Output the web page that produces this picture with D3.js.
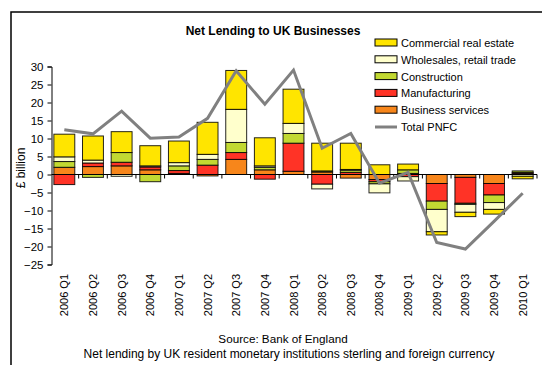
<!DOCTYPE html>
<html>
<head>
<meta charset="utf-8">
<script src="https://cdn.jsdelivr.net/npm/d3@7"></script>
<style>
  body { margin: 0; background: #fff; }
  text { font-family: "Liberation Sans", Arial, sans-serif; }
</style>
</head>
<body>
<div id="chart"></div>
<script>
// quarters and sector lending (£ billion)
var quarters = ["2006 Q1", "2006 Q2", "2006 Q3", "2006 Q4", "2007 Q1", "2007 Q2", "2007 Q3", "2007 Q4",
                "2008 Q1", "2008 Q2", "2008 Q3", "2008 Q4", "2009 Q1", "2009 Q2", "2009 Q3", "2009 Q4", "2010 Q1"];
var business = [2.0, 2.2, 2.4, 1.3, 0.3, -0.4, 4.2, 1.3, 0.9, 0.7, -1.0, -1.4, 0.3, -2.5, -0.8, -2.5, 0.3];
var manufacturing = [-2.8, 1.0, 1.0, 0.8, 0.8, 2.6, 1.9, -1.3, 7.8, -2.7, 0.6, -0.6, -0.6, -4.9, -7.2, -3.2, 0.3];
var construction = [1.6, -0.8, 2.7, -2.0, 1.3, 1.6, 2.8, 0.7, 2.7, 0.3, 0.6, -0.6, 1.0, -2.3, -0.3, -2.1, 0.4];
var wholesale = [1.3, 0.8, -0.5, 0.3, 0.9, 1.4, 9.2, 0.4, 2.8, -1.3, 0.2, -2.5, -1.2, -6.2, -2.2, -1.9, -0.5];
var realEstate = [6.3, 6.7, 5.8, 5.6, 6.0, 8.9, 10.8, 7.8, 9.5, 7.7, 7.3, 2.7, 1.6, -0.9, -1.2, -1.3, -0.7];
var totalPNFC = [12.4, 11.3, 17.6, 10.1, 10.4, 15.6, 28.8, 19.5, 29.0, 7.3, 11.4, -2.4, 0.6, -18.9, -20.7, -13.0, -5.2];
var yTicks = [30, 25, 20, 15, 10, 5, 0, -5, -10, -15, -20, -25];

var series = [
  { key: "business", name: "Business services", color: "#f7861b", values: business },
  { key: "manufacturing", name: "Manufacturing", color: "#ff3326", values: manufacturing },
  { key: "construction", name: "Construction", color: "#c2d932", values: construction },
  { key: "wholesale", name: "Wholesales, retail trade", color: "#ffffcc", values: wholesale },
  { key: "realEstate", name: "Commercial real estate", color: "#ffe500", values: realEstate }
];

var rows = quarters.map(function(q, i) {
  var r = { quarter: q };
  series.forEach(function(s) { r[s.key] = s.values[i]; });
  return r;
});

var width = 542, height = 365;
var svg = d3.select("#chart").append("svg").attr("width", width).attr("height", height);

// outer frame (only left/top visible in the picture)
svg.append("rect")
  .attr("x", 11).attr("y", 12).attr("width", 560).attr("height", 400)
  .attr("fill", "none").attr("stroke", "#000").attr("stroke-width", 1.5);

var x = d3.scaleBand().domain(quarters).range([50, 537]).paddingInner(0.27).paddingOuter(0.135);
var y = d3.scaleLinear().domain([-25, 30]).range([264.5, 66.5]);

var stacked = d3.stack()
  .keys(series.map(function(s) { return s.key; }))
  .offset(d3.stackOffsetDiverging)(rows);

svg.append("g").selectAll("g")
  .data(stacked)
  .enter().append("g")
  .attr("fill", function(d, i) { return series[i].color; })
  .selectAll("rect")
  .data(function(d) { return d; })
  .enter().append("rect")
  .attr("x", function(d) { return x(d.data.quarter); })
  .attr("width", x.bandwidth())
  .attr("y", function(d) { return y(Math.max(d[0], d[1])); })
  .attr("height", function(d) { return Math.abs(y(d[0]) - y(d[1])); })
  .attr("stroke", "#000")
  .attr("stroke-opacity", 0.85)
  .attr("stroke-width", 1);

// y axis
var yAxis = svg.append("g")
  .attr("transform", "translate(51.5,0)")
  .call(d3.axisLeft(y).tickValues(yTicks).tickSize(4).tickPadding(4));
yAxis.select(".domain").attr("stroke", "#000");
yAxis.selectAll("text").attr("font-size", 11.5).attr("fill", "#000")
  .style("font-family", "'Liberation Sans', Arial, sans-serif");

// x axis along zero, with ticks at band boundaries
var step = x.step();
var x0 = x.range()[0];
svg.append("line")
  .attr("x1", 51.5).attr("x2", x.range()[1])
  .attr("y1", y(0)).attr("y2", y(0))
  .attr("stroke", "#000");
svg.append("g").selectAll("line")
  .data(d3.range(1, quarters.length + 1))
  .enter().append("line")
  .attr("x1", function(k) { return x0 + k * step; })
  .attr("x2", function(k) { return x0 + k * step; })
  .attr("y1", y(0)).attr("y2", y(0) + 4)
  .attr("stroke", "#000");

// category labels below the plot, rotated
svg.append("g").selectAll("text")
  .data(quarters)
  .enter().append("text")
  .attr("transform", function(d) {
    return "translate(" + (x(d) + x.bandwidth() / 2 + 4) + ",274) rotate(-90)";
  })
  .attr("text-anchor", "end")
  .attr("font-size", 11)
  .text(function(d) { return d; });

// total line
var line = d3.line()
  .x(function(d, i) { return x(quarters[i]) + x.bandwidth() / 2; })
  .y(function(d) { return y(d); });
svg.append("path")
  .datum(totalPNFC)
  .attr("d", line)
  .attr("fill", "none")
  .attr("stroke", "#808080")
  .attr("stroke-width", 3);

// title
svg.append("text")
  .attr("x", 273).attr("y", 35)
  .attr("text-anchor", "middle")
  .attr("font-size", 12).attr("font-weight", "bold")
  .text("Net Lending to UK Businesses");

// y label
svg.append("text")
  .attr("transform", "translate(25,168) rotate(-90)")
  .attr("text-anchor", "middle")
  .attr("font-size", 12)
  .text("£ billion");

// legend
var legendItems = series.slice().reverse();
var lg = svg.append("g").selectAll("g")
  .data(legendItems)
  .enter().append("g")
  .attr("transform", function(d, i) { return "translate(375," + (43 + i * 16.8) + ")"; });
lg.append("rect")
  .attr("x", 0).attr("y", -4).attr("width", 22).attr("height", 7)
  .attr("fill", function(d) { return d.color; })
  .attr("stroke", "#000").attr("stroke-width", 1);
lg.append("text")
  .attr("x", 26).attr("y", 4)
  .attr("font-size", 11)
  .text(function(d) { return d.name; });

var lineLegend = svg.append("g").attr("transform", "translate(375," + (43 + 5 * 16.8) + ")");
lineLegend.append("line")
  .attr("x1", 0).attr("x2", 22).attr("y1", 0).attr("y2", 0)
  .attr("stroke", "#808080").attr("stroke-width", 3);
lineLegend.append("text")
  .attr("x", 26).attr("y", 4)
  .attr("font-size", 11)
  .text("Total PNFC");

// footnotes
svg.append("text")
  .attr("x", 283).attr("y", 343)
  .attr("text-anchor", "middle")
  .attr("font-size", 11.7)
  .text("Source: Bank of England");
svg.append("text")
  .attr("x", 289).attr("y", 358)
  .attr("text-anchor", "middle")
  .attr("font-size", 12)
  .text("Net lending by UK resident monetary institutions sterling and foreign currency");
</script>
</body>
</html>
